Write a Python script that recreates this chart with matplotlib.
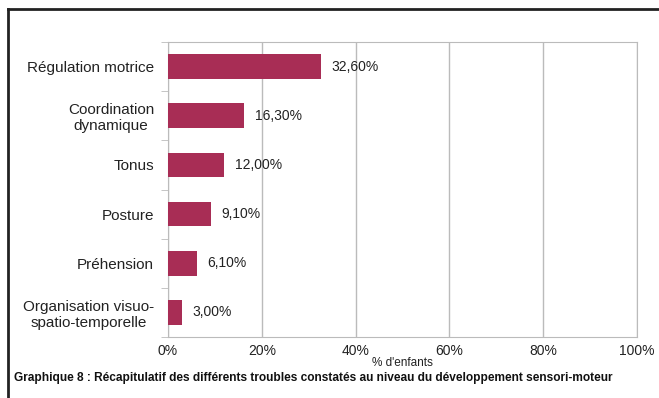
import matplotlib.pyplot as plt
import numpy as np

plt.rcParams['font.family'] = ['Liberation Sans', 'DejaVu Sans']

categories = ['Régulation motrice', 'Coordination\ndynamique', 'Tonus',
              'Posture', 'Préhension', 'Organisation visuo-\nspatio-temporelle']
values = [32.6, 16.3, 12.0, 9.1, 6.1, 3.0]
value_labels = ['32,60%', '16,30%', '12,00%', '9,10%', '6,10%', '3,00%']
xticks = [0, 20, 40, 60, 80, 100]

fig = plt.figure(figsize=(6.59, 3.98), dpi=100)
ax = fig.add_axes([168 / 659, 1 - 337 / 398, (637 - 168) / 659, (337 - 42) / 398])

# frame around the figure (left and top edges visible)
fig.add_artist(plt.Line2D([8 / 659, 8 / 659], [0, 1 - 9 / 398], transform=fig.transFigure,
                          color='#222222', lw=2))
fig.add_artist(plt.Line2D([8 / 659, 1], [1 - 9 / 398, 1 - 9 / 398], transform=fig.transFigure,
                          color='#222222', lw=2))

y = np.arange(len(categories))
ax.barh(y, values, height=0.5, color='#A82D55', zorder=3)
for yi, v, lab in zip(y, values, value_labels):
    ax.text(v + 2.3, yi, lab, va='center', ha='left', fontsize=10, color='#222222', zorder=4)

ax.set_ylim(len(categories) - 0.5, -0.5)
ax.set_xlim(0, 100)
ax.set_xticks(xticks)
ax.set_xticklabels([f'{t}%' for t in xticks], fontsize=10, color='#222222')
ax.set_yticks(y)
ax.set_yticklabels(categories, fontsize=11, color='#222222', multialignment='center')
ax.tick_params(axis='y', length=0, pad=10)
ax.tick_params(axis='x', length=0, pad=5)
ax.set_yticks(np.arange(len(categories) + 1) - 0.5, minor=True)
ax.tick_params(axis='y', which='minor', length=5, color='#bbbbbb')
ax.grid(axis='x', color='#bbbbbb', lw=1, zorder=0)
for s in ax.spines.values():
    s.set_color('#bbbbbb')

ax.set_xlabel("% d'enfants", fontsize=8.5, labelpad=-1, color='#222222')
fig.text(14 / 659, 1 - 378 / 398,
         'Graphique 8 : Récapitulatif des différents troubles constatés au niveau du développement sensori-moteur',
         fontsize=8.6, fontweight='bold', va='center', ha='left', color='#111111')

fig.savefig('out.png', dpi=100)
